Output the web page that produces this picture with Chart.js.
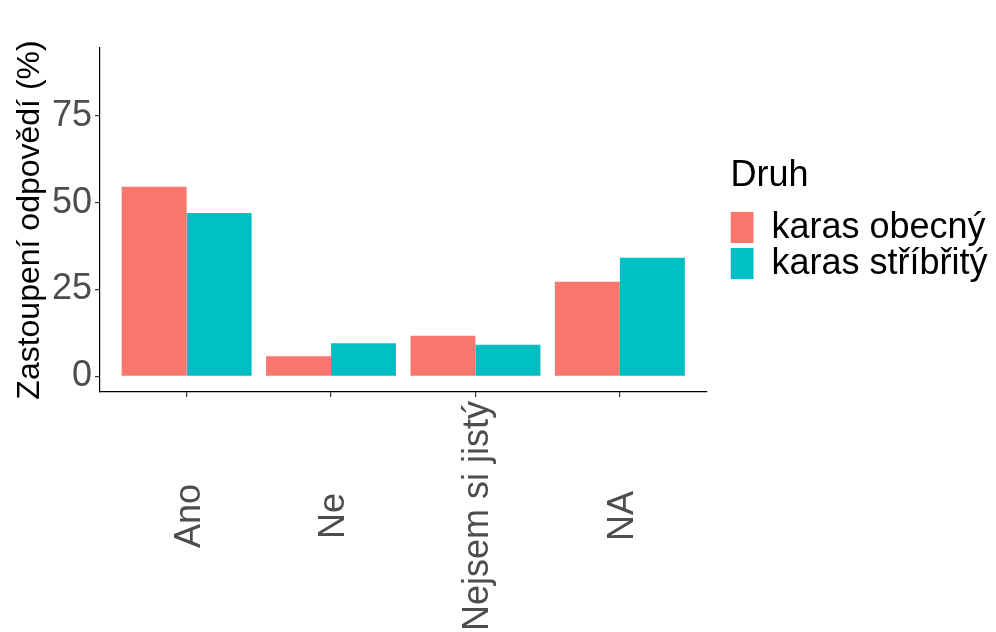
<!DOCTYPE html>
<html>
<head>
<meta charset="utf-8">
<script src="https://cdn.jsdelivr.net/npm/chart.js@4.4.1/dist/chart.umd.min.js"></script>
<style>
  html, body { margin: 0; padding: 0; background: #fff; }
  canvas { display: block; }
</style>
</head>
<body>
<canvas id="chart" width="996" height="632"></canvas>
<script>
const categories = ['Ano', 'Ne', 'Nejsem si jistý', 'NA'];
const seriesNames = ['karas obecný', 'karas stříbřitý'];
const obecny = [54.6, 5.8, 11.7, 27.2];
const stribrity = [47.0, 9.5, 9.1, 34.1];
const yTicks = [0, 25, 50, 75];

const FONT = "'Liberation Sans', Arial, sans-serif";

// x labels centred under the ticks, like ggplot with angle = 90
const xLabels = {
  id: 'xLabels',
  afterDraw(chart) {
    const scale = chart.scales.x;
    const ctx = chart.ctx;
    ctx.save();
    ctx.font = '36px ' + FONT;
    ctx.fillStyle = '#4D4D4D';
    ctx.textAlign = 'center';
    ctx.textBaseline = 'alphabetic';
    categories.forEach((c, i) => {
      ctx.save();
      ctx.translate(scale.getPixelForValue(i) + 13, 516);
      ctx.rotate(-Math.PI / 2);
      ctx.fillText(c, 0, 0);
      ctx.restore();
    });
    ctx.restore();
  }
};

// leave a gap between the panel and the legend, and let the legend run to the edge
const legendGap = {
  id: 'legendGap',
  afterLayout(chart) {
    const lg = chart.legend;
    lg.left = chart.chartArea.right + 24;
    lg.right = chart.width;
    lg.width = lg.right - lg.left;
  }
};

const ctx = document.getElementById('chart').getContext('2d');
new Chart(ctx, {
  type: 'bar',
  data: {
    datasets: [{
      label: seriesNames[0],
      data: obecny.map((v, i) => ({ x: i, y: v })),
      backgroundColor: '#F8766D',
      borderWidth: 0,
      categoryPercentage: 0.9,
      barPercentage: 1.0
    }, {
      label: seriesNames[1],
      data: stribrity.map((v, i) => ({ x: i, y: v })),
      backgroundColor: '#00BFC4',
      borderWidth: 0,
      categoryPercentage: 0.9,
      barPercentage: 1.0
    }]
  },
  options: {
    responsive: false,
    animation: false,
    devicePixelRatio: 1,
    layout: { padding: { top: 48, right: 54, left: 0, bottom: 0 } },
    plugins: {
      tooltip: { enabled: false },
      legend: {
        position: 'right',
        align: 'center',
        fullSize: false,
        title: {
          display: true,
          text: 'Druh',
          color: '#000',
          position: 'start',
          font: { size: 36, family: FONT },
          padding: { top: 0, bottom: 8 }
        },
        labels: {
          boxWidth: 23,
          boxHeight: 31,
          color: '#000',
          font: { size: 36, family: FONT },
          padding: 0
        }
      }
    },
    scales: {
      x: {
        type: 'linear',
        offset: false,
        min: -0.6,
        max: 3.6,
        afterBuildTicks: s => { s.ticks = categories.map((_, i) => ({ value: i })); },
        afterFit: s => { s.height = 240; },
        grid: { offset: false, drawOnChartArea: false, drawTicks: true, tickLength: 5, color: '#333333', lineWidth: 1.2 },
        border: { display: true, color: '#000', width: 1.2 },
        ticks: { display: false }
      },
      y: {
        min: -4.5,
        max: 94.5,
        afterBuildTicks: s => { s.ticks = yTicks.map(v => ({ value: v })); },
        afterFit: s => { s.width = 100; },
        grid: { drawOnChartArea: false, drawTicks: true, tickLength: 5, color: '#333333', lineWidth: 1.2 },
        border: { display: true, color: '#000', width: 1.2 },
        ticks: { font: { size: 36, family: FONT }, color: '#4D4D4D', padding: 3 },
        title: {
          display: true,
          text: 'Zastoupení odpovědí (%)',
          color: '#000',
          font: { size: 32, family: FONT },
          padding: { top: 11, bottom: 0 }
        }
      }
    }
  },
  plugins: [xLabels, legendGap]
});
</script>
</body>
</html>
